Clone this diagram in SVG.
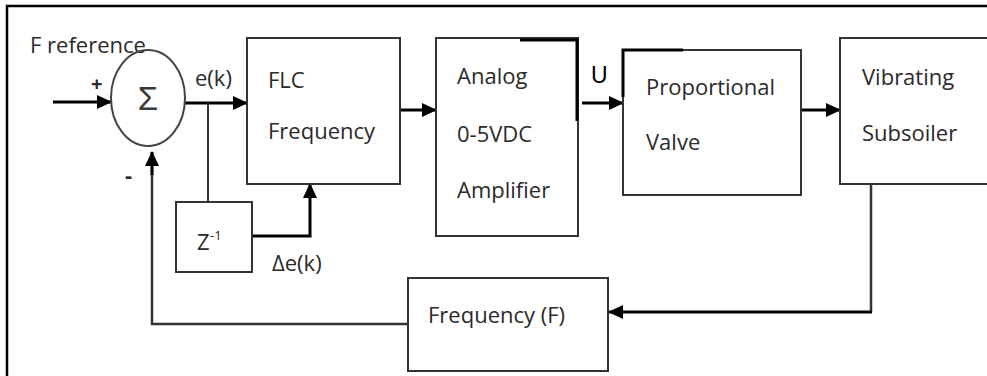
<svg xmlns="http://www.w3.org/2000/svg" width="987" height="376" viewBox="0 0 987 376">
  <defs>
    <marker id="ah" markerWidth="15" markerHeight="14" refX="14" refY="7" orient="auto" markerUnits="userSpaceOnUse">
      <path d="M0,0 L15,7 L0,14 Z" fill="#000"/>
    </marker>
    <style>
      .box { fill: #fff; stroke: #333; stroke-width: 2; }
      .lbl { font-family: "Open Sans", "Liberation Sans", sans-serif; font-size: 22px; fill: #2a2a2a; }
      .arr { fill: none; stroke: #000; stroke-width: 3; marker-end: url(#ah); }
      .ln { fill: none; stroke: #333; stroke-width: 2.5; }
      .blk { fill: none; stroke: #000; stroke-width: 3; }
    </style>
  </defs>
  <rect width="987" height="376" fill="#fff"/>
  <path d="M7,376 V6 H987" fill="none" stroke="#000" stroke-width="2.5"/>

  <g id="connectors">
    <path class="arr" d="M53,102 H111"/>
    <path class="arr" d="M185,103 H247"/>
    <path class="ln" d="M208,103 V202" style="stroke-width:2"/>
    <path class="arr" d="M249,236 H310 V184"/>
    <path class="arr" d="M400,110 H436"/>
    <path class="arr" d="M582,103 H623"/>
    <path class="arr" d="M801,110 H840"/>
    <path class="ln" d="M871,184 V312"/>
    <path class="arr" d="M872,312 H609"/>
    <path class="ln" d="M408,324 H152 V170"/>
    <path class="arr" d="M152,175 V152"/>
  </g>

  <g id="reference">
    <text class="lbl" x="30" y="53">F reference</text>
    <text class="lbl" x="91" y="91" style="font-size:20px;font-weight:bold">+</text>
  </g>

  <g id="sum">
    <ellipse cx="148" cy="98" rx="37" ry="48" fill="none" stroke="#444" stroke-width="2"/>
    <text x="148" y="110" text-anchor="middle" font-family="Liberation Sans, Arial, sans-serif" font-size="33" fill="#3a3a3a">Σ</text>
    <text class="lbl" x="125" y="183" style="font-size:22px;font-weight:bold">-</text>
  </g>

  <text class="lbl" x="195" y="86">e(k)</text>

  <g id="flc">
    <rect class="box" x="247" y="38" width="153" height="146"/>
    <text class="lbl" x="268" y="88">FLC</text>
    <text class="lbl" x="268" y="139">Frequency</text>
  </g>

  <g id="delay">
    <rect class="box" x="176" y="202" width="76" height="70"/>
    <text class="lbl" x="197" y="250">Z</text>
    <text class="lbl" x="210" y="240" style="font-size:13px">-1</text>
  </g>
  <text class="lbl" x="272" y="271">Δe(k)</text>

  <g id="amplifier">
    <rect class="box" x="436" y="38" width="142" height="198"/>
    <path class="blk" d="M520,40 H577 V121"/>
    <text class="lbl" x="457" y="84">Analog</text>
    <text class="lbl" x="457" y="142">0-5VDC</text>
    <text class="lbl" x="457" y="198">Amplifier</text>
  </g>

  <text x="591" y="83" font-family="Liberation Sans, Arial, sans-serif" font-size="23" fill="#000">U</text>

  <g id="valve">
    <rect class="box" x="623" y="50" width="178" height="145"/>
    <path class="blk" d="M683,50 H623 V97"/>
    <text class="lbl" x="646" y="95">Proportional</text>
    <text class="lbl" x="646" y="150">Valve</text>
  </g>

  <g id="subsoiler">
    <path class="box" d="M995,38 H840 V184 H995"/>
    <text class="lbl" x="862" y="85">Vibrating</text>
    <text class="lbl" x="862" y="141">Subsoiler</text>
  </g>

  <g id="frequency">
    <rect class="box" x="408" y="278" width="200" height="93"/>
    <text class="lbl" x="428" y="323">Frequency (F)</text>
  </g>
</svg>
